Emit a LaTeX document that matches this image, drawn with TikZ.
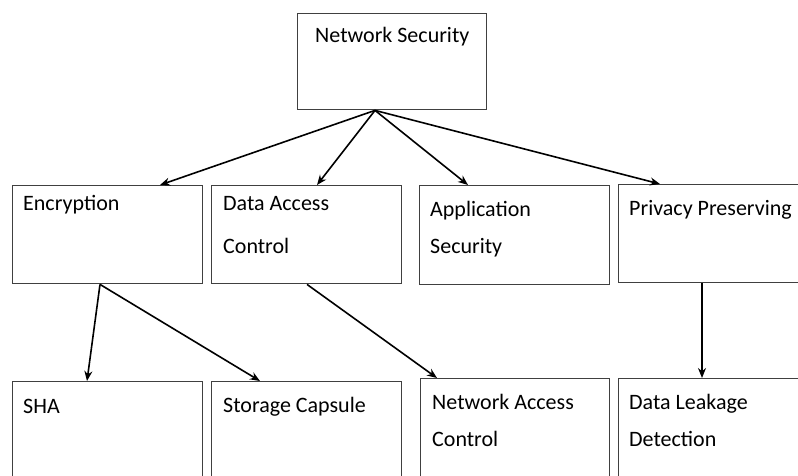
\documentclass[tikz,border=0pt]{standalone}
\usepackage{fontspec}
\setmainfont{Carlito}
\usetikzlibrary{arrows.meta}
\begin{document}
\begin{tikzpicture}[x=1pt,y=-1pt,
  box/.style={draw=black!75, line width=1.4pt, rectangle, anchor=north west, inner sep=0pt},
  lbl/.style={anchor=base west, inner sep=0pt, font=\fontsize{22}{26}\selectfont, text=black},
  conn/.style={line width=1.6pt, -{Stealth[length=10pt,width=8pt]}}]
\useasboundingbox (0,0) rectangle (798,476);
\clip (0,0) rectangle (798,476);
% boxes
\node[box, minimum width=189pt, minimum height=96pt] (ns) at (297,13) {};
\node[box, minimum width=190pt, minimum height=98pt] (enc) at (12,185) {};
\node[box, minimum width=190pt, minimum height=98pt] (dac) at (211,185) {};
\node[box, minimum width=190pt, minimum height=99pt] (app) at (419,185) {};
\node[box, minimum width=202pt, minimum height=98pt] (pp) at (618,184) {};
\node[box, minimum width=190pt, minimum height=110pt] (sha) at (12,381) {};
\node[box, minimum width=190pt, minimum height=110pt] (sc) at (211,381) {};
\node[box, minimum width=189pt, minimum height=115pt] (nac) at (420,378) {};
\node[box, minimum width=202pt, minimum height=115pt] (dld) at (618,378) {};
% texts
\node[lbl] (tns) at (315,43) {Network Security};
\node[lbl] (tenc) at (23,210) {Encryption};
\node[lbl] (tdac1) at (223,211) {Data Access};
\node[lbl] (tdac2) at (223,253) {Control};
\node[lbl] (tapp1) at (430,216) {Application};
\node[lbl] (tapp2) at (430,253) {Security};
\node[lbl] (tpp) at (629,215) {Privacy Preserving};
\node[lbl] (tsha) at (23,413) {SHA};
\node[lbl] (tsc) at (223,412) {Storage Capsule};
\node[lbl] (tnac1) at (432,409) {Network Access};
\node[lbl] (tnac2) at (432,446) {Control};
\node[lbl] (tdld1) at (629,409) {Data Leakage};
\node[lbl] (tdld2) at (629,446) {Detection};
% connector end points
\coordinate (nsOut) at ([xshift=78pt]ns.south west);
\coordinate (encIn) at ([xshift=148pt]enc.north west);
\coordinate (dacIn) at ([xshift=106pt]dac.north west);
\coordinate (appIn) at ([xshift=49pt]app.north west);
\coordinate (ppIn) at ([xshift=42pt]pp.north west);
\coordinate (encOut) at ([xshift=88pt]enc.south west);
\coordinate (dacOut) at ([xshift=96pt]dac.south west);
\coordinate (ppOut) at ([xshift=84pt]pp.south west);
\coordinate (shaIn) at ([xshift=75pt]sha.north west);
\coordinate (scIn) at ([xshift=49pt]sc.north west);
\coordinate (nacIn) at ([xshift=17pt]nac.north west);
\coordinate (dldIn) at ([xshift=84pt]dld.north west);
% connectors
\draw[conn] (nsOut) -- (encIn);
\draw[conn] (nsOut) -- (dacIn);
\draw[conn] (nsOut) -- (appIn);
\draw[conn] (nsOut) -- (ppIn);
\draw[conn] (encOut) -- (shaIn);
\draw[conn] (encOut) -- (scIn);
\draw[conn] (dacOut) -- (nacIn);
\draw[conn] (ppOut) -- (dldIn);
\end{tikzpicture}
\end{document}
